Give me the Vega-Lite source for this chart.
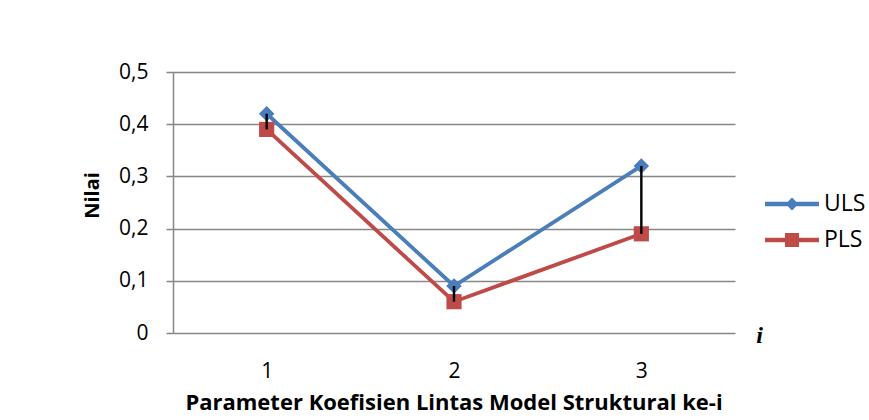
{
  "$schema": "https://vega.github.io/schema/vega-lite/v6.json",
  "width": 562,
  "height": 261,
  "autosize": {"type": "none"},
  "padding": {"left": 173, "top": 72, "right": 134, "bottom": 87},
  "background": "white",
  "config": {
    "view": {"stroke": null},
    "font": "Open Sans"
  },
  "title": {
    "text": "Parameter Koefisien Lintas Model Struktural ke-i",
    "orient": "bottom",
    "anchor": "middle",
    "frame": "group",
    "font": "Open Sans",
    "fontSize": 22,
    "fontWeight": "bold",
    "color": "black",
    "offset": 12
  },
  "resolve": {
    "scale": {"color": "independent", "shape": "independent"},
    "legend": {"color": "independent", "shape": "independent"}
  },
  "data": {
    "values": [
      {"x": "1", "series": "ULS", "value": 0.42},
      {"x": "2", "series": "ULS", "value": 0.09},
      {"x": "3", "series": "ULS", "value": 0.32},
      {"x": "1", "series": "PLS", "value": 0.39},
      {"x": "2", "series": "PLS", "value": 0.06},
      {"x": "3", "series": "PLS", "value": 0.19}
    ]
  },
  "encoding": {
    "x": {
      "field": "x",
      "type": "ordinal",
      "scale": {"type": "point", "padding": 0.5},
      "axis": {
        "title": "i",
        "titleFont": "Liberation Serif",
        "titleFontStyle": "italic",
        "titleFontWeight": "bold",
        "titleFontSize": 24,
        "titleColor": "black",
        "titleX": 586,
        "titleY": 2,
        "titleAlign": "center",
        "titleBaseline": "middle",
        "labelAngle": 0,
        "labelFont": "Open Sans",
        "labelFontSize": 21,
        "labelColor": "black",
        "labelPadding": 27,
        "domain": false,
        "ticks": false,
        "grid": false
      }
    }
  },
  "layer": [
    {
      "mark": {"type": "line", "strokeWidth": 3.8},
      "encoding": {
        "y": {
          "field": "value",
          "type": "quantitative",
          "scale": {"domain": [0, 0.5], "nice": false, "zero": true},
          "axis": {
            "title": "Nilai",
            "titleFont": "Open Sans",
            "titleFontSize": 20,
            "titleFontWeight": "bold",
            "titleColor": "black",
            "titleX": -81,
            "titleY": 123,
            "titleAlign": "center",
            "titleBaseline": "middle",
            "titleAngle": -90,
            "values": [0, 0.1, 0.2, 0.3, 0.4, 0.5],
            "labelExpr": "datum.value == 0 ? '0' : replace(format(datum.value, '.1f'), '.', ',')",
            "labelFont": "Open Sans",
            "labelFontSize": 21,
            "labelColor": "black",
            "labelPadding": 18,
            "tickSize": 7,
            "tickColor": "#878787",
            "tickWidth": 1.5,
            "domainColor": "#878787",
            "domainWidth": 1.5,
            "gridColor": "#878787",
            "gridWidth": 1.5,
            "gridOpacity": 1
          }
        },
        "color": {
          "field": "series",
          "type": "nominal",
          "scale": {"domain": ["ULS", "PLS"], "range": ["#4a7ebb", "#be4b48"]},
          "legend": null
        },
        "detail": {"field": "series"}
      }
    },
    {
      "mark": {"type": "point", "filled": true, "opacity": 1},
      "encoding": {
        "y": {"field": "value", "type": "quantitative"},
        "color": {
          "field": "series",
          "type": "nominal",
          "scale": {"domain": ["ULS", "PLS"], "range": ["#4a7ebb", "#be4b48"]},
          "legend": null
        },
        "shape": {"condition": {"test": "datum.series === 'ULS'", "value": "diamond"}, "value": "square"},
        "size": {"condition": {"test": "datum.series === 'ULS'", "value": 240}, "value": 230}
      }
    },
    {
      "transform": [
        {"pivot": "series", "value": "value", "groupby": ["x"]}
      ],
      "mark": {"type": "rule", "color": "black", "strokeWidth": 2.4},
      "encoding": {
        "y": {"field": "ULS", "type": "quantitative"},
        "y2": {"field": "PLS"}
      }
    },
    {
      "mark": {"type": "point", "filled": true, "opacity": 0, "size": 2916},
      "encoding": {
        "color": {
          "field": "series",
          "type": "nominal",
          "scale": {"domain": ["ULS", "PLS"], "range": ["#4a7ebb", "#be4b48"]},
          "legend": {
            "title": null,
            "orient": "none",
            "legendX": 592,
            "legendY": 122,
            "padding": 0,
            "symbolSize": 2916,
            "symbolOpacity": 1,
            "clipHeight": 20,
            "rowPadding": 13,
            "labelOffset": 5,
            "labelFontSize": 23,
            "labelColor": "black",
            "labelFont": "Open Sans",
            "symbolStrokeWidth": 0
          }
        },
        "shape": {
          "field": "series",
          "type": "nominal",
          "scale": {
            "domain": ["ULS", "PLS"],
            "range": [
              "M-1,-0.085L1,-0.085L1,0.085L-1,0.085Z M0,-0.24L0.24,0L0,0.24L-0.24,0Z",
              "M-1,-0.085L1,-0.085L1,0.085L-1,0.085Z M-0.26,-0.26L0.26,-0.26L0.26,0.26L-0.26,0.26Z"
            ]
          },
          "legend": {
            "title": null,
            "orient": "none",
            "legendX": 592,
            "legendY": 122,
            "padding": 0,
            "symbolSize": 2916,
            "symbolOpacity": 1,
            "clipHeight": 20,
            "rowPadding": 13,
            "labelOffset": 5,
            "labelFontSize": 23,
            "labelColor": "black",
            "labelFont": "Open Sans",
            "symbolStrokeWidth": 0
          }
        }
      }
    }
  ]
}
